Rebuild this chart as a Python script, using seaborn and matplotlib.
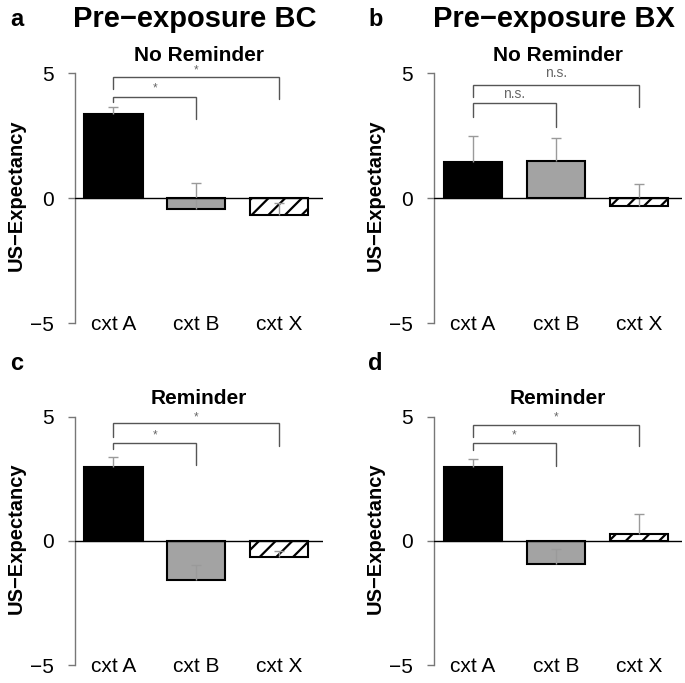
import matplotlib
matplotlib.use("Agg")
import matplotlib.pyplot as plt
import seaborn as sns
import pandas as pd

sns.set_style("white")
plt.rcParams["font.family"] = ["Liberation Sans", "DejaVu Sans"]
plt.rcParams["hatch.linewidth"] = 1.6
plt.rcParams["text.color"] = "black"
plt.rcParams["axes.labelcolor"] = "black"
plt.rcParams["ytick.color"] = "black"

categories = ["cxt A", "cxt B", "cxt X"]
bar_colors = ["#000000", "#a3a3a3", "#ffffff"]

means_a = [3.35, -0.45, -0.68]
err_a = [0.28, 1.05, 0.48]
means_b = [1.43, 1.49, -0.33]
err_b = [1.05, 0.90, 0.88]
means_c = [2.99, -1.57, -0.66]
err_c = [0.38, 0.59, 0.25]
means_d = [2.96, -0.94, 0.28]
err_d = [0.35, 0.62, 0.79]

# (x1, x2, y bar, left leg end, right leg end, label, label y)
brackets_a = [(0, 1, 4.05, 3.85, 3.15, "*", 4.40), (0, 2, 4.85, 4.35, 3.95, "*", 5.10)]
brackets_b = [(0, 1, 3.79, 3.25, 2.85, "n.s.", 4.16), (0, 2, 4.52, 4.03, 3.63, "n.s.", 5.00)]
brackets_c = [(0, 1, 3.95, 3.69, 3.06, "*", 4.24), (0, 2, 4.73, 4.20, 3.82, "*", 4.97)]
brackets_d = [(0, 1, 3.93, 3.66, 3.02, "*", 4.24), (0, 2, 4.67, 4.20, 3.80, "*", 4.97)]

yticks = [-5, 0, 5]
ytick_labels = ["\u22125", "0", "5"]


def draw_panel(ax, means, errs, brackets, subtitle):
    df = pd.DataFrame({"ctx": categories, "val": means})
    sns.barplot(data=df, x="ctx", y="val", hue="ctx", palette=bar_colors,
                width=0.7, edgecolor="black", linewidth=1.5, legend=False,
                errorbar=None, ax=ax)
    ax.patches[2].set_hatch("//")

    # nur obere Fehlerbalken, Kappe nur oben
    tops = [m + e for m, e in zip(means, errs)]
    ax.vlines(range(3), means, tops, color="#9a9a9a", lw=1.0, zorder=3)
    ax.plot(range(3), tops, ls="none", marker="_", ms=7, mew=1.0,
            color="#9a9a9a", zorder=3)
    ax.axhline(0, color="black", lw=1.0, zorder=4)

    for x1, x2, yb, yl, yr, lab, ly in brackets:
        ax.plot([x1, x1, x2, x2], [yl, yb, yb, yr], color="#555555", lw=1.0,
                solid_joinstyle="miter")
        fs = 8.5 if lab == "*" else 10
        ax.text((x1 + x2) / 2, ly, lab, ha="center", va="center",
                fontsize=fs, color="#666666")

    ax.set_xlim(-0.47, 2.52)
    ax.set_ylim(-5.3, 5.5)
    for s in ["top", "right", "bottom"]:
        ax.spines[s].set_visible(False)
    ax.spines["left"].set_bounds(-5, 5)
    ax.spines["left"].set_color("#777777")
    ax.spines["left"].set_linewidth(1.0)
    ax.set_yticks(yticks, ytick_labels)
    ax.tick_params(axis="y", length=5, width=1, color="#777777",
                   labelcolor="black", labelsize=15, pad=10, left=True)
    ax.set_xticks([])
    ax.set_xlabel("")
    ax.set_ylabel("US\u2212Expectancy", fontsize=14.5, fontweight="bold", labelpad=3)
    for i, c in enumerate(categories):
        ax.text(i, -5.05, c, ha="center", va="center", fontsize=15)
    ax.text(0.5, 1.02, subtitle, transform=ax.transAxes, ha="center",
            va="center", fontsize=15, fontweight="bold")


fig = plt.figure(figsize=(6.85, 6.83), dpi=100)
W, H = 685, 683
w = 248 / W
ax_a = fig.add_axes([74.5 / W, 0.5161, w, 0.3953])
ax_b = fig.add_axes([434 / W, 0.5161, w, 0.3953])
ax_c = fig.add_axes([74.5 / W, 0.0154, w, 0.3927])
ax_d = fig.add_axes([434 / W, 0.0154, w, 0.3927])

draw_panel(ax_a, means_a, err_a, brackets_a, "No Reminder")
draw_panel(ax_b, means_b, err_b, brackets_b, "No Reminder")
draw_panel(ax_c, means_c, err_c, brackets_c, "Reminder")
draw_panel(ax_d, means_d, err_d, brackets_d, "Reminder")

fig.text(0.284, 0.972, "Pre\u2212exposure BC", ha="center", va="center",
         fontsize=21, fontweight="bold")
fig.text(0.808, 0.972, "Pre\u2212exposure BX", ha="center", va="center",
         fontsize=21, fontweight="bold")
for lab, x, y in [("a", 0.025, 0.972), ("b", 0.548, 0.972),
                  ("c", 0.025, 0.4685), ("d", 0.548, 0.4685)]:
    fig.text(x, y, lab, ha="center", va="center", fontsize=17, fontweight="bold")

fig.savefig("out.png", dpi=100)
